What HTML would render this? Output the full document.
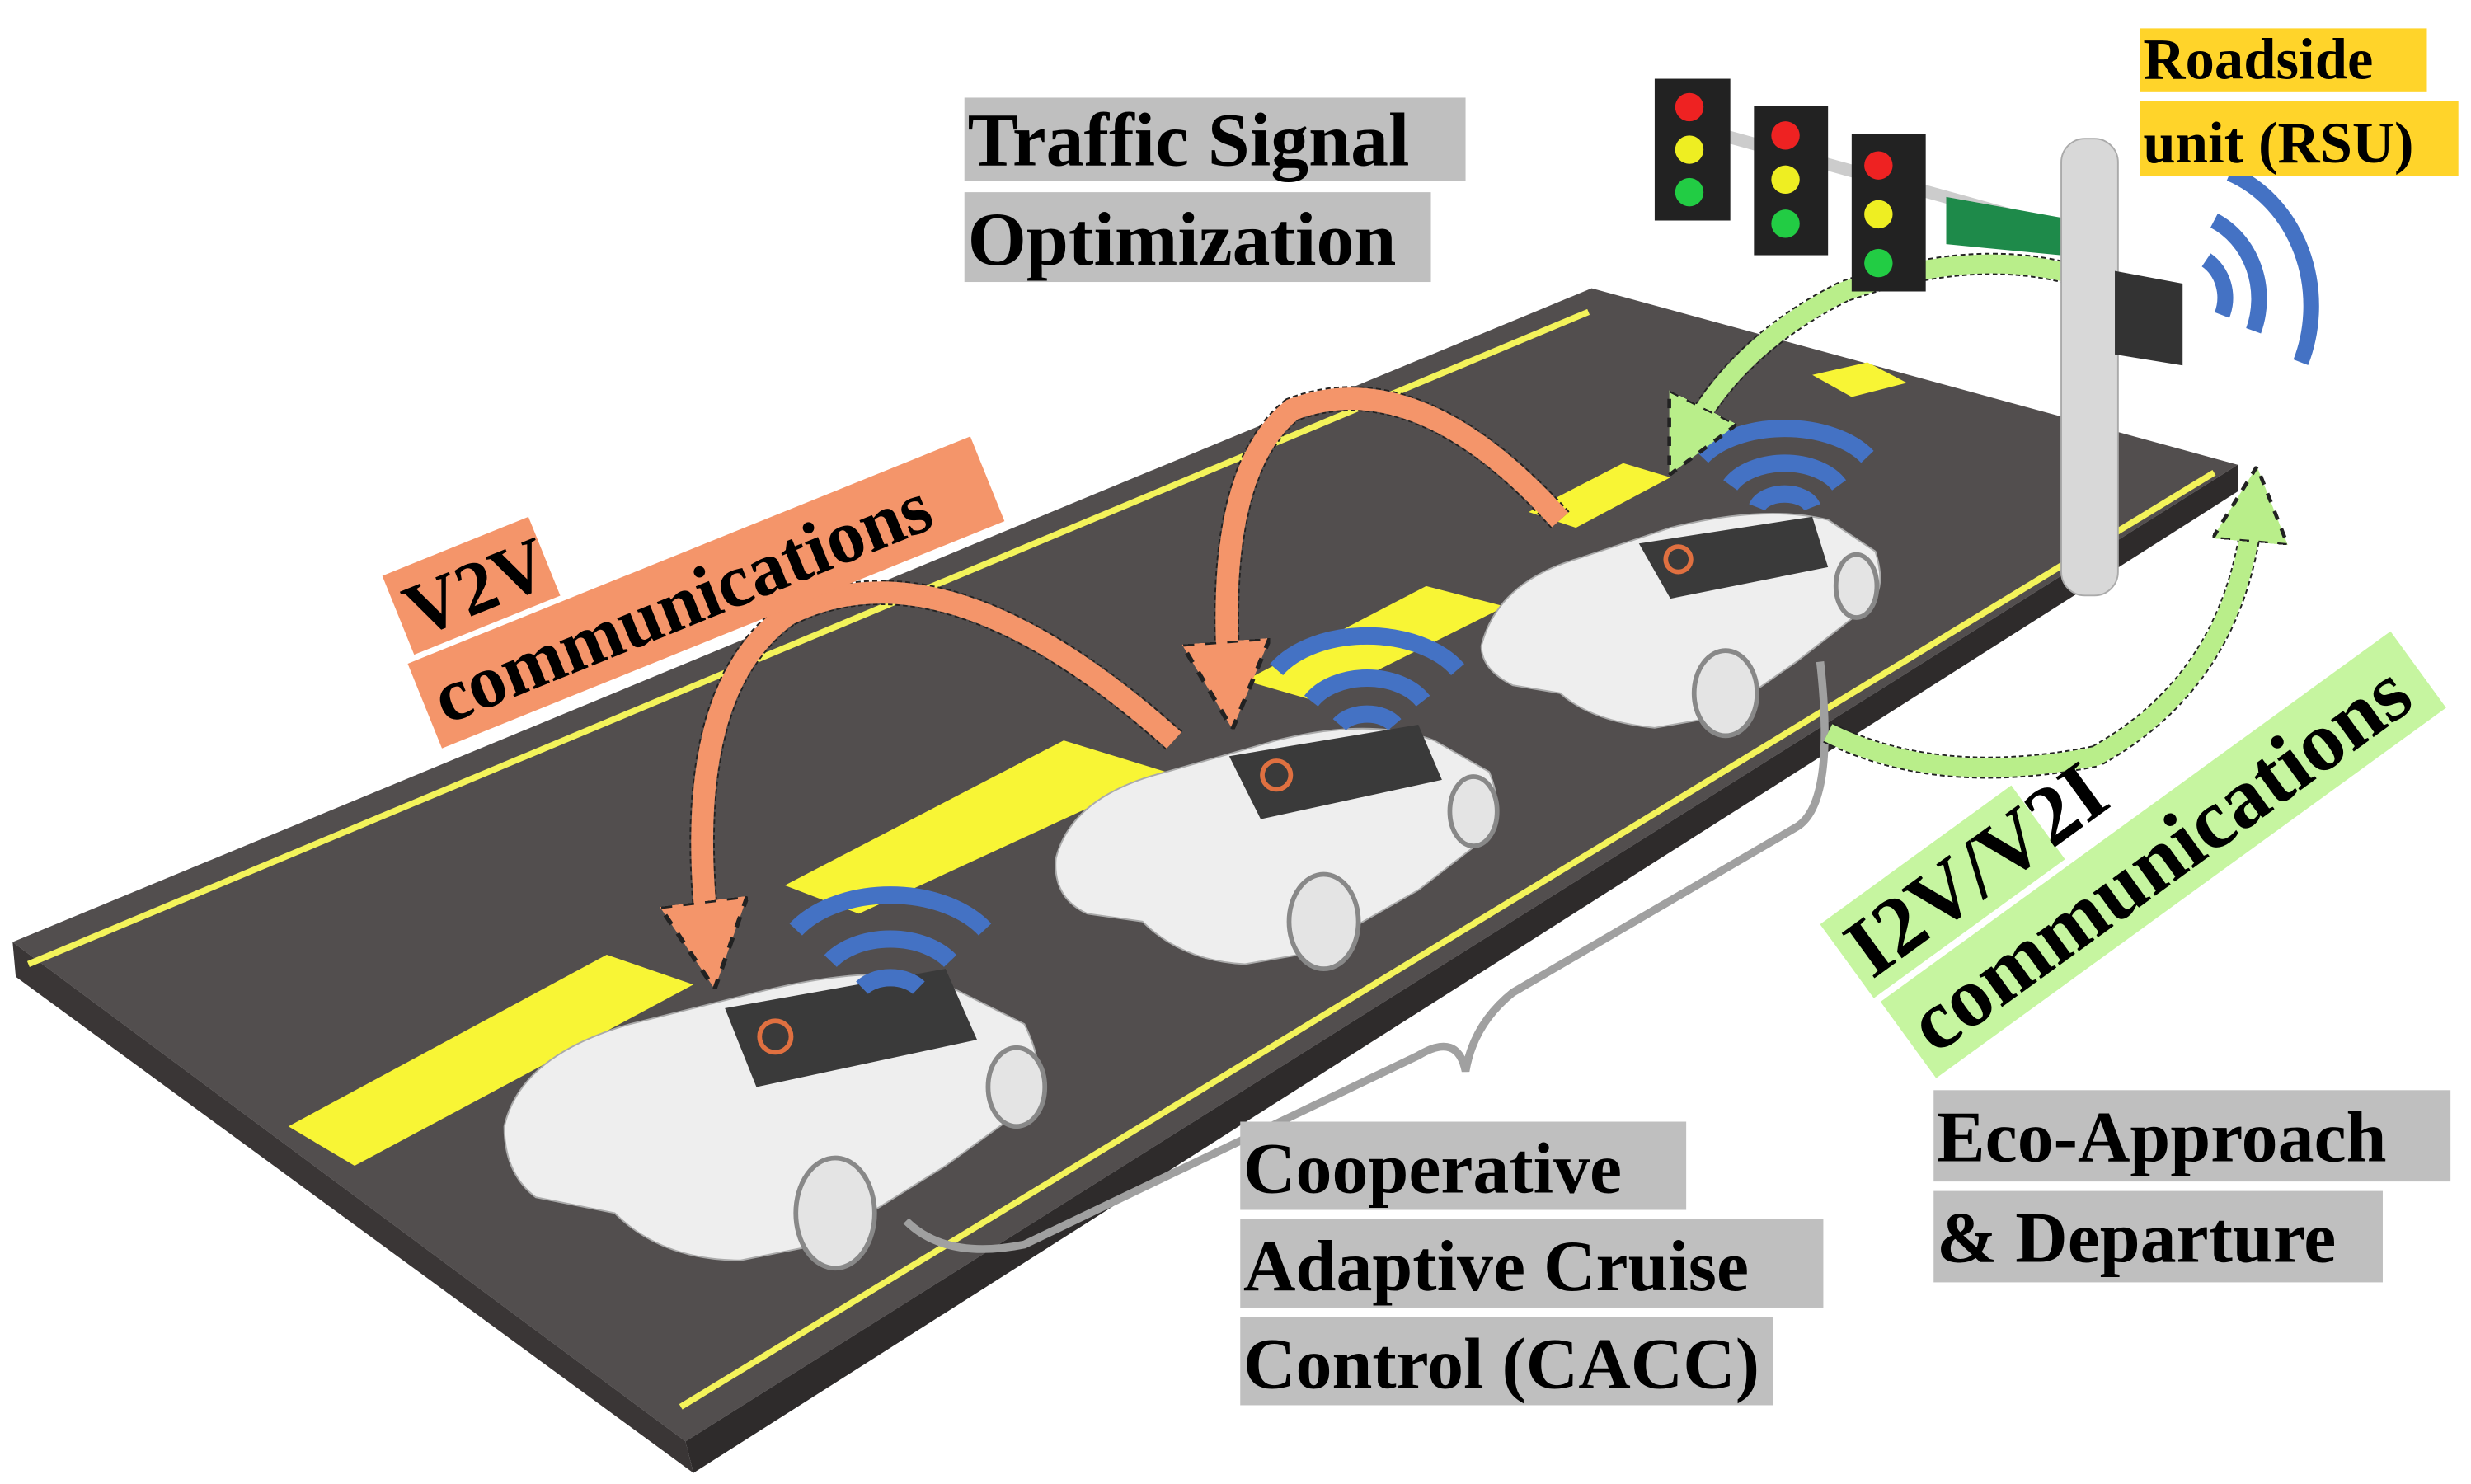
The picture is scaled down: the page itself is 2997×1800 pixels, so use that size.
<!DOCTYPE html>
<html><head><meta charset="utf-8"><style>
html,body{margin:0;padding:0;background:#fff;}
svg{display:block;}
text{font-family:"Liberation Serif",serif;font-weight:bold;fill:#000;}
</style></head><body>
<svg width="2997" height="1800" viewBox="0 0 1568 942" preserveAspectRatio="none" xmlns="http://www.w3.org/2000/svg">
<defs>
<marker id="ao" markerWidth="4" markerHeight="4" refX="2" refY="2" orient="auto"><path d="M0,0 L4,2 L0,4 Z" fill="#f4956a" stroke="#222" stroke-width="0.2" stroke-dasharray="0.5 0.5"/></marker>
<marker id="ag" markerWidth="4" markerHeight="4" refX="2" refY="2" orient="auto"><path d="M0,0 L4,2 L0,4 Z" fill="#b9ee8a" stroke="#222" stroke-width="0.2" stroke-dasharray="0.5 0.5"/></marker>
</defs>
<!-- road -->
<polygon points="8,598 1010,183 1420,295 435,915" fill="#524e4e"/>
<polygon points="435,915 1420,295 1420,312 440,935" fill="#2e2b2b"/>
<polygon points="8,598 435,915 440,935 10,620" fill="#3a3636"/>
<line x1="18" y1="612" x2="1008" y2="198" stroke="#f3f35a" stroke-width="4"/>
<line x1="432" y1="893" x2="1405" y2="300" stroke="#f3f35a" stroke-width="4"/>
<!-- center dashes -->
<g fill="#f8f535">
<polygon points="183,715 385,606 440,625 225,740"/>
<polygon points="498,562 675,470 740,490 545,580"/>
<polygon points="790,432 905,372 955,385 835,445"/>
<polygon points="970,325 1030,294 1060,303 1000,335"/>
<polygon points="1150,238 1185,230 1210,243 1175,252"/>
</g>
<!-- bracket -->
<path d="M575,775 Q600,800 650,790 L900,670 Q925,655 930,680 Q935,650 960,630 L1140,525 Q1165,510 1155,420" fill="none" stroke="#a0a0a0" stroke-width="5"/>
<!-- cars -->
<g>
<path d="M320,715 Q330,670 400,650 L480,630 Q560,610 600,625 L650,650 Q665,680 655,700 L600,740 L520,790 L470,800 Q420,800 390,770 L340,760 Q320,745 320,715Z" fill="#eeeeee" stroke="#aaa" stroke-width="1"/>
<ellipse cx="530" cy="770" rx="25" ry="35" fill="#e4e4e4" stroke="#888" stroke-width="3"/>
<ellipse cx="645" cy="690" rx="18" ry="25" fill="#e4e4e4" stroke="#888" stroke-width="3"/>
<path d="M460,640 L600,615 L620,660 L480,690Z" fill="#3a3a3a"/>
<ellipse cx="492" cy="658" rx="10" ry="10" fill="none" stroke="#e07040" stroke-width="3"/>
</g>
<g>
<path d="M670,545 Q680,505 740,490 L810,470 Q870,455 910,470 L945,490 Q955,515 945,530 L900,565 L830,605 L790,612 Q750,610 725,585 L690,580 Q668,570 670,545Z" fill="#eeeeee" stroke="#aaa" stroke-width="1"/>
<ellipse cx="840" cy="585" rx="22" ry="30" fill="#e4e4e4" stroke="#888" stroke-width="3"/>
<ellipse cx="935" cy="515" rx="15" ry="22" fill="#e4e4e4" stroke="#888" stroke-width="3"/>
<path d="M780,480 L900,460 L915,495 L800,520Z" fill="#3a3a3a"/>
<ellipse cx="810" cy="492" rx="9" ry="9" fill="none" stroke="#e07040" stroke-width="3"/>
</g>
<g>
<path d="M940,410 Q950,370 1000,355 L1060,335 Q1120,320 1160,330 L1190,350 Q1198,375 1185,385 L1140,420 L1090,455 L1050,462 Q1010,458 990,440 L960,435 Q940,425 940,410Z" fill="#eeeeee" stroke="#aaa" stroke-width="1"/>
<ellipse cx="1095" cy="440" rx="20" ry="27" fill="#e4e4e4" stroke="#888" stroke-width="3"/>
<ellipse cx="1178" cy="372" rx="13" ry="20" fill="#e4e4e4" stroke="#888" stroke-width="3"/>
<path d="M1040,345 L1150,328 L1160,360 L1060,380Z" fill="#3a3a3a"/>
<ellipse cx="1065" cy="355" rx="8" ry="8" fill="none" stroke="#e07040" stroke-width="3"/>
</g>
<!-- car wifi -->
<g fill="none" stroke="#4472c4" stroke-width="11">
<path d="M505,590 A70,45 0 0 1 625,590"/><path d="M527,610 A45,30 0 0 1 603,610"/><path d="M547,627 A22,15 0 0 1 583,627"/>
<path d="M810,425 A65,40 0 0 1 925,425"/><path d="M832,445 A40,27 0 0 1 903,445"/><path d="M850,460 A20,13 0 0 1 885,460"/>
<path d="M1080,290 A60,35 0 0 1 1185,290"/><path d="M1098,308 A38,24 0 0 1 1167,308"/><path d="M1115,322 A18,11 0 0 1 1150,322"/>
</g>
<!-- orange arrows -->
<g fill="none">
<path d="M745,470 Q600,340 500,390 Q430,440 450,600" stroke="#222" stroke-width="16" stroke-dasharray="3 2"/>
<path d="M745,470 Q600,340 500,390 Q430,440 450,600" stroke="#f4956a" stroke-width="14" marker-end="url(#ao)"/>
<path d="M990,330 Q900,230 820,260 Q770,300 780,435" stroke="#222" stroke-width="16" stroke-dasharray="3 2"/>
<path d="M990,330 Q900,230 820,260 Q770,300 780,435" stroke="#f4956a" stroke-width="14" marker-end="url(#ao)"/>
<!-- green arrows -->
<path d="M1345,185 Q1270,150 1170,185 Q1100,220 1070,280" stroke="#222" stroke-width="14" stroke-dasharray="3 2"/>
<path d="M1345,185 Q1270,150 1170,185 Q1100,220 1070,280" stroke="#b9ee8a" stroke-width="12" marker-end="url(#ag)"/>
<path d="M1160,465 Q1230,500 1330,480 Q1420,430 1430,320" stroke="#222" stroke-width="14" stroke-dasharray="3 2"/>
<path d="M1160,465 Q1230,500 1330,480 Q1420,430 1430,320" stroke="#b9ee8a" stroke-width="12" marker-end="url(#ag)"/>
</g>
<!-- traffic signal -->
<line x1="1090" y1="85" x2="1325" y2="150" stroke="#ccc" stroke-width="8"/>
<polygon points="1235,125 1318,140 1318,163 1235,155" fill="#1e8a4a"/>
<g>
<rect x="1050" y="50" width="48" height="90" fill="#222"/>
<circle cx="1072" cy="68" r="9" fill="#e22"/><circle cx="1072" cy="95" r="9" fill="#ee2"/><circle cx="1072" cy="122" r="9" fill="#2c4"/>
<rect x="1113" y="67" width="47" height="95" fill="#222"/>
<circle cx="1133" cy="86" r="9" fill="#e22"/><circle cx="1133" cy="114" r="9" fill="#ee2"/><circle cx="1133" cy="142" r="9" fill="#2c4"/>
<rect x="1175" y="85" width="47" height="100" fill="#222"/>
<circle cx="1192" cy="105" r="9" fill="#e22"/><circle cx="1192" cy="136" r="9" fill="#ee2"/><circle cx="1192" cy="167" r="9" fill="#2c4"/>
</g>
<rect x="1308" y="88" width="36" height="290" rx="15" fill="#d8d8d8" stroke="#aaa"/>
<polygon points="1342,172 1385,180 1385,232 1342,225" fill="#333"/>
<g fill="none" stroke="#4472c4" stroke-width="10">
<path d="M1415,110 A80,90 0 0 1 1460,230"/><path d="M1405,140 A50,55 0 0 1 1430,210"/><path d="M1400,165 A25,28 0 0 1 1410,200"/>
</g>
<!-- labels -->
<rect x="612" y="62" width="318" height="53" fill="#bfbfbf"/>
<text x="614" y="105" font-size="48">Traffic Signal</text>
<rect x="612" y="122" width="296" height="57" fill="#bfbfbf"/>
<text x="614" y="168" font-size="48">Optimization</text>
<rect x="1358" y="18" width="182" height="40" fill="#ffd42a"/>
<text x="1360" y="50" font-size="37">Roadside</text>
<rect x="1358" y="64" width="202" height="48" fill="#ffd42a"/>
<text x="1360" y="103" font-size="37">unit (RSU)</text>
<g transform="translate(265,405) rotate(-22)">
<rect x="-6" y="-45" width="100" height="54" fill="#f4956a"/>
<text x="0" y="0" font-size="48">V2V</text>
</g>
<g transform="translate(283,460) rotate(-22)">
<rect x="-8" y="-45" width="385" height="58" fill="#f4956a"/>
<text x="0" y="0" font-size="48">communications</text>
</g>
<g transform="translate(1188,622) rotate(-36)">
<rect x="-6" y="-48" width="150" height="58" fill="#c6f5a0"/>
<text x="0" y="0" font-size="54">I2V/V2I</text>
</g>
<g transform="translate(1228,670) rotate(-36)">
<rect x="-8" y="-48" width="400" height="60" fill="#c6f5a0"/>
<text x="0" y="0" font-size="54">communications</text>
</g>
<rect x="787" y="712" width="283" height="56" fill="#bfbfbf"/>
<text x="789" y="757" font-size="46">Cooperative</text>
<rect x="787" y="774" width="370" height="56" fill="#bfbfbf"/>
<text x="789" y="819" font-size="46">Adaptive Cruise</text>
<rect x="787" y="836" width="338" height="56" fill="#bfbfbf"/>
<text x="789" y="881" font-size="46">Control (CACC)</text>
<rect x="1227" y="692" width="328" height="58" fill="#bfbfbf"/>
<text x="1229" y="737" font-size="46">Eco-Approach</text>
<rect x="1227" y="756" width="285" height="58" fill="#bfbfbf"/>
<text x="1229" y="801" font-size="46">&amp; Departure</text>
</svg>
</body></html>
